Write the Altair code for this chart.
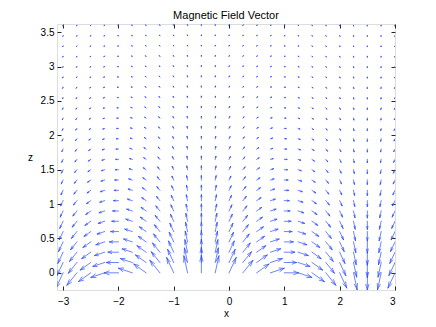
import altair as alt
import pandas as pd

# grid of the quiver plot
x_grid = [-3.0, -2.75, -2.5, -2.25, -2.0, -1.75, -1.5, -1.25, -1.0, -0.75, -0.5, -0.25,
          0.0, 0.25, 0.5, 0.75, 1.0, 1.25, 1.5, 1.75, 2.0, 2.25, 2.5, 2.75, 3.0]
z_grid = [0.0, 0.15, 0.3, 0.45, 0.6, 0.75, 0.9, 1.05, 1.2, 1.35, 1.5, 1.65, 1.8, 1.95,
          2.1, 2.25, 2.4, 2.55, 2.7, 2.85, 3.0, 3.15, 3.3, 3.45, 3.6]

# field direction per column at the surface (Bx, Bz), read from the arrows
col_bx = [-0.5, -0.707, -0.866, -0.966, -1.0, -0.966, -0.866, -0.707, -0.5, -0.259, 0.0, 0.259,
          0.5, 0.707, 0.866, 0.966, 1.0, 0.966, 0.866, 0.707, 0.5, 0.259, 0.0, -0.259, -0.5]
col_bz = [-0.866, -0.707, -0.5, -0.259, 0.0, 0.259, 0.5, 0.707, 0.866, 0.966, 1.0, 0.966,
          0.866, 0.707, 0.5, 0.259, 0.0, -0.259, -0.5, -0.707, -0.866, -0.966, -1.0, -0.966, -0.866]
# decay of the field strength with height, per row
row_decay = [1.0, 0.855, 0.730, 0.624, 0.534, 0.456, 0.390, 0.333, 0.285, 0.243, 0.208, 0.178,
             0.152, 0.130, 0.111, 0.095, 0.081, 0.069, 0.059, 0.051, 0.043, 0.037, 0.032, 0.027, 0.023]
arrow_scale = 0.252  # quiver autoscale factor

x_ticks = [-3, -2, -1, 0, 1, 2, 3]
z_ticks = [0, 0.5, 1, 1.5, 2, 2.5, 3, 3.5]

alpha, beta, eps = 0.33, 0.33, 1e-12
rows = []
for i, xv in enumerate(x_grid):
    for j, zv in enumerate(z_grid):
        u = col_bx[i] * row_decay[j] * arrow_scale
        v = col_bz[i] * row_decay[j] * arrow_scale
        tx, tz = xv + u, zv + v
        rows.append(dict(
            x0=xv, z0=zv, x1=tx, z1=tz,
            ha_x=tx - alpha * (u + beta * (v + eps)), ha_z=tz - alpha * (v - beta * (u + eps)),
            hb_x=tx - alpha * (u - beta * (v + eps)), hb_z=tz - alpha * (v + beta * (u + eps)),
            tx=tx, tz=tz,
        ))
df = pd.DataFrame(rows)

W, H = 338, 266
FONT = "Liberation Sans"
BLUE = "#2e4dff"
DARK = "#262626"

xs = alt.Scale(domain=[-3.11, 3.0], nice=False, zero=False)
ys = alt.Scale(domain=[-0.25, 3.62], nice=False, zero=False)

lab = dict(labelFont=FONT, labelFontSize=10, labelColor="black", grid=False, domain=False,
           tickColor=DARK, tickWidth=1, format="~g")

base = alt.Chart(df)
mark = dict(color=BLUE, strokeWidth=0.7, clip=True, strokeCap="square")

shaft = base.mark_rule(**mark).encode(
    x=alt.X("x0:Q", scale=xs, axis=alt.Axis(orient="bottom", values=x_ticks, ticks=False,
                                            labelPadding=6, title="x", titleFont=FONT,
                                            titleFontSize=10, titleFontWeight="normal",
                                            titleColor="black", titleBaseline="middle",
                                            titleY=23, **lab)),
    y=alt.Y("z0:Q", scale=ys, axis=alt.Axis(orient="left", values=z_ticks, ticks=False,
                                            labelPadding=3, title="z", titleFont=FONT,
                                            titleFontSize=10, titleFontWeight="normal",
                                            titleColor="black", titleAngle=0,
                                            titleAlign="center", titleBaseline="middle",
                                            titleX=-27, titleY=H / 2, **lab)),
    x2="x1:Q", y2="z1:Q",
)

head_a = base.mark_rule(**mark).encode(
    x=alt.X("ha_x:Q", scale=xs, axis=alt.Axis(orient="top", offset=-H, values=x_ticks,
                                              labels=False, tickSize=4, title="", **lab)),
    y=alt.Y("ha_z:Q", scale=ys, axis=alt.Axis(orient="right", offset=-W, values=z_ticks,
                                              labels=False, tickSize=4, title="", **lab)),
    x2="tx:Q", y2="tz:Q",
)

head_b = base.mark_rule(**mark).encode(
    x=alt.X("hb_x:Q", scale=xs, axis=alt.Axis(orient="bottom", offset=-H, values=x_ticks,
                                              labels=False, tickSize=4, title="", **lab)),
    y=alt.Y("hb_z:Q", scale=ys, axis=alt.Axis(orient="left", offset=-W, values=z_ticks,
                                              labels=False, tickSize=4, title="", **lab)),
    x2="tx:Q", y2="tz:Q",
)

chart = alt.layer(shaft, head_a, head_b).resolve_axis(
    x="independent", y="independent"
).properties(
    width=W, height=H,
    title=alt.TitleParams("Magnetic Field Vector", font=FONT, fontSize=11,
                          fontWeight="normal", color="black", offset=3),
    autosize=alt.AutoSizeParams(type="none"),
    padding={"left": 49, "top": 16, "right": 30, "bottom": 30},
).configure_view(stroke=DARK, strokeWidth=1).configure(background="white")

chart.save("out.html", embed_options={"renderer": "svg", "actions": False})
